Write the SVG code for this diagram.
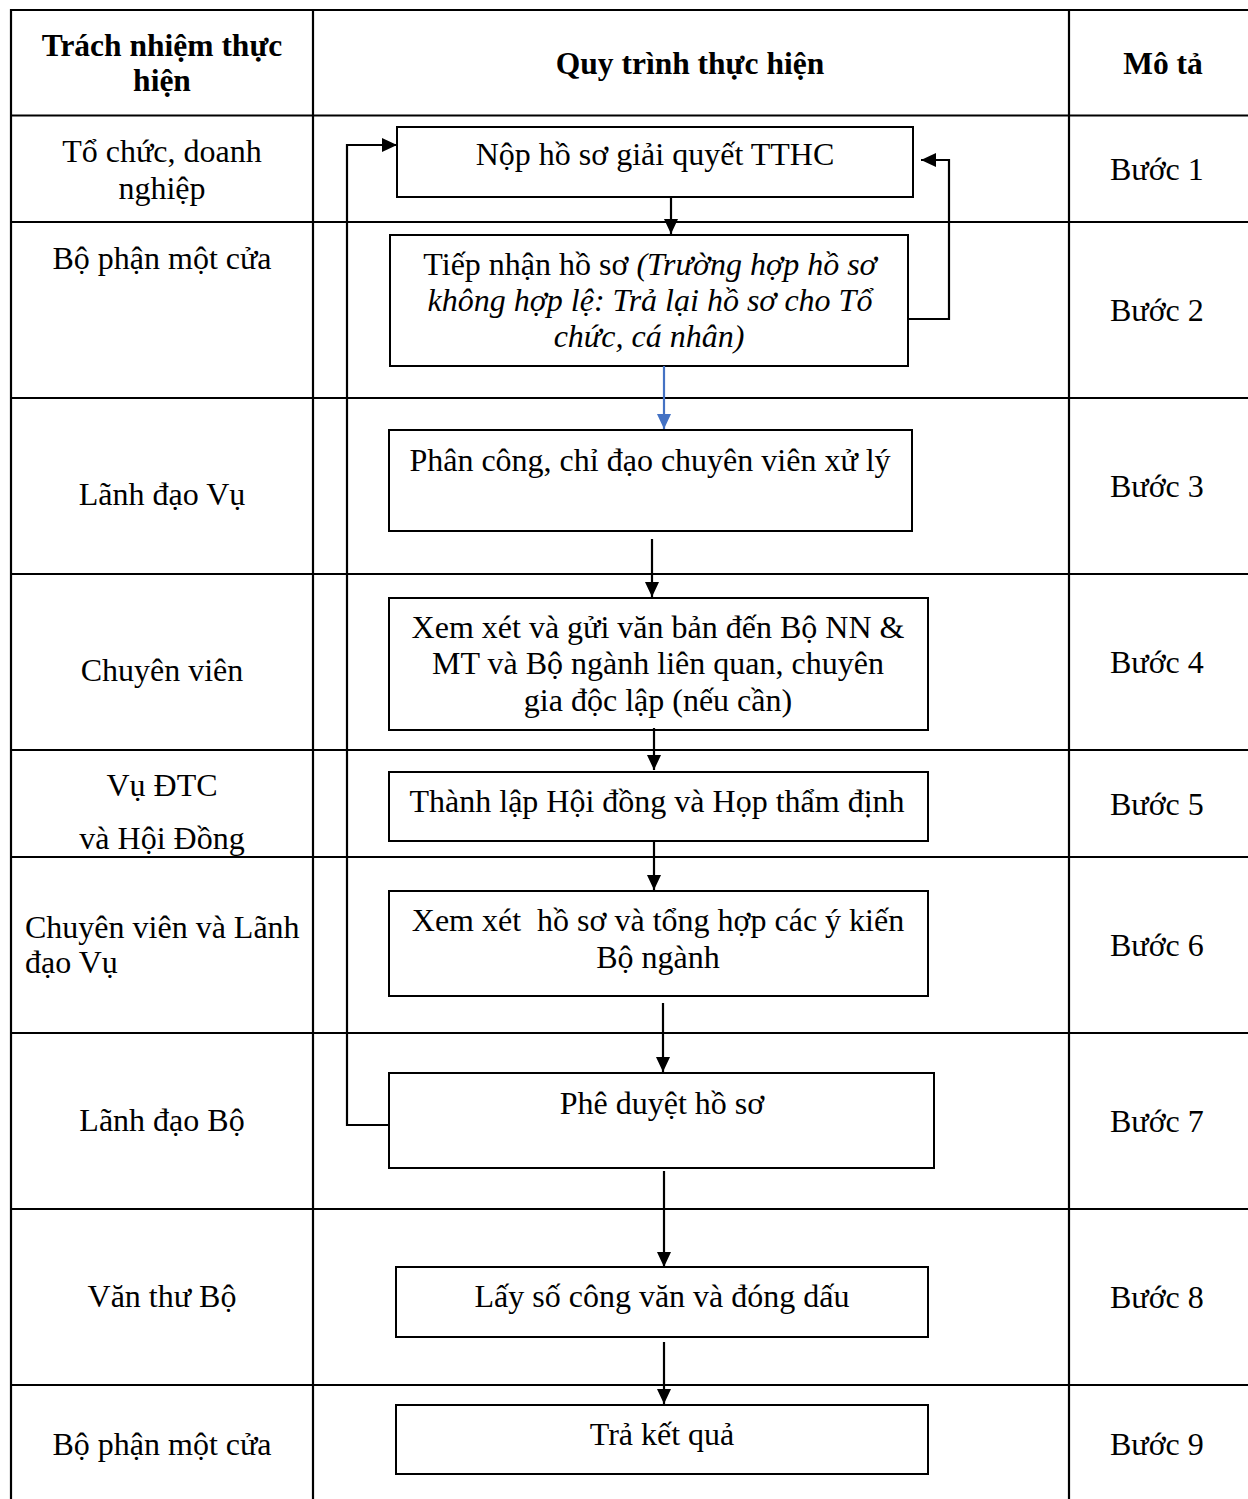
<svg xmlns="http://www.w3.org/2000/svg" width="1248" height="1499" viewBox="0 0 1248 1499">
<defs>
<style>
.grid{stroke:#000;stroke-width:2.2;fill:none}
.box{fill:#fff;stroke:#000;stroke-width:2}
.t{font-family:"Liberation Serif","Times New Roman",serif;font-size:32px;fill:#000}
.c{text-anchor:middle}
.b{font-weight:bold;font-size:31.5px}
.i{font-style:italic}
.con{stroke:#000;stroke-width:2.2;fill:none}
.blue{stroke:#4472C4;stroke-width:2.2;fill:none}
</style>
<marker id="ah" markerUnits="userSpaceOnUse" markerWidth="16" markerHeight="14" refX="15" refY="7" orient="auto">
<path d="M0,0 L15,7 L0,14 Z" fill="#000"/>
</marker>
<marker id="ahb" markerUnits="userSpaceOnUse" markerWidth="16" markerHeight="14" refX="15" refY="7" orient="auto">
<path d="M0,0 L15,7 L0,14 Z" fill="#4472C4"/>
</marker>
</defs>
<rect width="1248" height="1499" fill="#fff"/>
<g id="table">
<path class="grid" d="M11,1499 V10 H1248 M313,10 V1499 M1069,10 V1499 M11,115.5 H1248 M11,222 H1248 M11,398 H1248 M11,574 H1248 M11,750 H1248 M11,857 H1248 M11,1033 H1248 M11,1209 H1248 M11,1385 H1248"/>
</g>
<g id="header">
<text class="t b c" x="162" y="56">Trách nhiệm thực</text>
<text class="t b c" x="162" y="91">hiện</text>
<text class="t b c" x="690" y="74">Quy trình thực hiện</text>
<text class="t b c" x="1163" y="74">Mô tả</text>
</g>
<g id="responsible">
<text class="t c" x="162" y="162">Tổ chức, doanh</text>
<text class="t c" x="162" y="199">nghiệp</text>
<text class="t c" x="162" y="269">Bộ phận một cửa</text>
<text class="t c" x="162" y="505">Lãnh đạo Vụ</text>
<text class="t c" x="162" y="681">Chuyên viên</text>
<text class="t c" x="162" y="796">Vụ ĐTC</text>
<text class="t c" x="162" y="849">và Hội Đồng</text>
<text class="t" x="25" y="938">Chuyên viên và Lãnh</text>
<text class="t" x="25" y="973">đạo Vụ</text>
<text class="t c" x="162" y="1131">Lãnh đạo Bộ</text>
<text class="t c" x="162" y="1307">Văn thư Bộ</text>
<text class="t c" x="162" y="1455">Bộ phận một cửa</text>
</g>
<g id="steps">
<text class="t" x="1110" y="180">Bước 1</text>
<text class="t" x="1110" y="321">Bước 2</text>
<text class="t" x="1110" y="497">Bước 3</text>
<text class="t" x="1110" y="673">Bước 4</text>
<text class="t" x="1110" y="815">Bước 5</text>
<text class="t" x="1110" y="956">Bước 6</text>
<text class="t" x="1110" y="1132">Bước 7</text>
<text class="t" x="1110" y="1308">Bước 8</text>
<text class="t" x="1110" y="1455">Bước 9</text>
</g>
<g id="n1">
<rect class="box" x="397" y="127" width="516" height="70"/>
<text class="t c" x="655" y="165">Nộp hồ sơ giải quyết TTHC</text>
</g>
<g id="n2">
<rect class="box" x="390" y="235" width="518" height="131"/>
<text class="t c" x="650" y="275">Tiếp nhận hồ sơ <tspan class="i">(Trường hợp hồ sơ</tspan></text>
<text class="t c i" x="650" y="311">không hợp lệ: Trả lại hồ sơ cho Tổ</text>
<text class="t c i" x="649" y="347">chức, cá nhân)</text>
</g>
<g id="n3">
<rect class="box" x="389" y="430" width="523" height="101"/>
<text class="t c" x="650" y="471">Phân công, chỉ đạo chuyên viên xử lý</text>
</g>
<g id="n4">
<rect class="box" x="389" y="598" width="539" height="132"/>
<text class="t c" x="658" y="638">Xem xét và gửi văn bản đến Bộ NN &amp;</text>
<text class="t c" x="658" y="674">MT và Bộ ngành liên quan, chuyên</text>
<text class="t c" x="658" y="711">gia độc lập (nếu cần)</text>
</g>
<g id="n5">
<rect class="box" x="389" y="772" width="539" height="69"/>
<text class="t c" x="657" y="812">Thành lập Hội đồng và Họp thẩm định</text>
</g>
<g id="n6">
<rect class="box" x="389" y="891" width="539" height="105"/>
<text class="t c" x="658" y="931" style="white-space:pre">Xem xét  hồ sơ và tổng hợp các ý kiến</text>
<text class="t c" x="658" y="968">Bộ ngành</text>
</g>
<g id="n7">
<rect class="box" x="389" y="1073" width="545" height="95"/>
<text class="t c" x="662" y="1114">Phê duyệt hồ sơ</text>
</g>
<g id="n8">
<rect class="box" x="396" y="1267" width="532" height="70"/>
<text class="t c" x="662" y="1307">Lấy số công văn và đóng dấu</text>
</g>
<g id="n9">
<rect class="box" x="396" y="1405" width="532" height="69"/>
<text class="t c" x="662" y="1445">Trả kết quả</text>
</g>
<g id="connectors">
<path class="con" d="M671,197 V234" marker-end="url(#ah)"/>
<path class="con" d="M908,319 H949 V160 H921" marker-end="url(#ah)"/>
<path class="blue" d="M664,366 V429" marker-end="url(#ahb)"/>
<path class="con" d="M652,539 V597" marker-end="url(#ah)"/>
<path class="con" d="M654,728 V770" marker-end="url(#ah)"/>
<path class="con" d="M654,841 V890" marker-end="url(#ah)"/>
<path class="con" d="M663,1003 V1072" marker-end="url(#ah)"/>
<path class="con" d="M389,1125 H347 V145 H397" marker-end="url(#ah)"/>
<path class="con" d="M664,1171 V1267" marker-end="url(#ah)"/>
<path class="con" d="M664,1342 V1404" marker-end="url(#ah)"/>
</g>
</svg>
